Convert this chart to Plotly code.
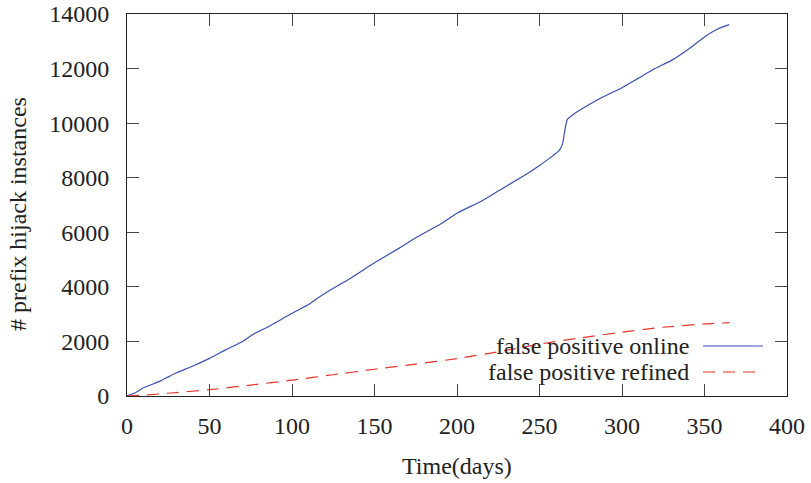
import plotly.graph_objects as go

# ---- data ----
days_online = [0, 5, 10, 15, 20, 25, 30, 40, 50, 60, 70, 77, 85, 100, 110, 117, 125,
               135, 150, 165, 175, 190, 200, 215, 226, 240, 250, 258, 262, 264, 265,
               266, 267, 268, 270, 275, 285, 300, 310, 320, 330, 340, 350, 358, 365]
online = [0, 120, 300, 420, 545, 700, 850, 1100, 1380, 1700, 2000, 2280, 2520, 3030,
          3350, 3650, 3950, 4300, 4880, 5420, 5800, 6300, 6700, 7150, 7550, 8050, 8450,
          8800, 9000, 9250, 9600, 9950, 10150, 10200, 10300, 10500, 10850, 11300,
          11650, 12000, 12300, 12700, 13160, 13450, 13610]

days_refined = [0, 10, 25, 50, 75, 100, 125, 150, 175, 200, 225, 250, 275, 300, 325, 350, 365]
refined = [0, 30, 100, 230, 400, 580, 780, 980, 1170, 1370, 1620, 1900, 2130, 2340, 2520, 2640, 2690]

x_ticks = [0, 50, 100, 150, 200, 250, 300, 350, 400]
y_ticks = [0, 2000, 4000, 6000, 8000, 10000, 12000, 14000]

x_title = "Time(days)"
y_title = "# prefix hijack instances"
label_online = "false positive online"
label_refined = "false positive refined"
blue = "#3c4fb4"
red = "#e8352b"
font = "Liberation Serif"
W, H = 811, 483
L, R, T, B = 127, 24, 14, 87

fig = go.Figure()
fig.add_trace(go.Scatter(x=days_online, y=online, mode="lines", name=label_online,
                         line=dict(color=blue, width=1.2, shape="spline", smoothing=0.5),
                         showlegend=False))
fig.add_trace(go.Scatter(x=days_refined, y=refined, mode="lines", name=label_refined,
                         line=dict(color=red, width=1.2, dash="12px,8px", shape="spline", smoothing=0.5),
                         showlegend=False))

axis_common = dict(showline=True, linecolor="#222", linewidth=1, mirror="ticks",
                   ticks="inside", ticklen=12, tickcolor="#444", tickwidth=1,
                   showgrid=False, zeroline=False, ticklabeloverflow="allow",
                   tickfont=dict(family=font, size=24, color="#222"))

fig.update_layout(
    width=W, height=H,
    margin=dict(l=L, r=R, t=T, b=B, autoexpand=False),
    paper_bgcolor="white", plot_bgcolor="white",
    font=dict(family=font, size=24, color="#222"),
    xaxis=dict(range=[0, 400], tickvals=x_ticks, ticktext=[str(v) for v in x_ticks],
               ticklabelstandoff=8, **axis_common),
    yaxis=dict(range=[0, 14000], tickvals=y_ticks, ticktext=[str(v) for v in y_ticks],
               ticklabelstandoff=12, **axis_common),
)

pw, ph = W - L - R, H - T - B
def px_x(p):
    return (p - L) / pw
def px_y(p):
    return (H - B - p) / ph

# axis titles
fig.add_annotation(xref="paper", yref="paper", x=px_x(457), y=px_y(466), text=x_title,
                   showarrow=False, xanchor="center", yanchor="middle",
                   font=dict(family=font, size=24, color="#222"))
fig.add_annotation(xref="paper", yref="paper", x=px_x(18), y=px_y(214), text=y_title,
                   showarrow=False, textangle=-90, xanchor="center", yanchor="middle",
                   font=dict(family=font, size=24, color="#222"))

# gnuplot-style key: text right-aligned, sample line on the right
key_rows = [(label_online, blue, "solid", 346), (label_refined, red, "dash", 372)]
for text, color, dash, ypix in key_rows:
    fig.add_annotation(xref="paper", yref="paper", x=px_x(691), y=px_y(ypix),
                       text=text, showarrow=False, xanchor="right", yanchor="middle",
                       font=dict(family=font, size=24, color="#222"))
    fig.add_shape(type="line", xref="paper", yref="paper",
                  x0=px_x(703), x1=px_x(763), y0=px_y(ypix), y1=px_y(ypix),
                  line=dict(color=color, width=1.2, dash="12px,8px" if dash == "dash" else "solid"))

fig.write_html("out.html", config={"displayModeBar": False},
               post_script="document.body.style.margin='0';")
